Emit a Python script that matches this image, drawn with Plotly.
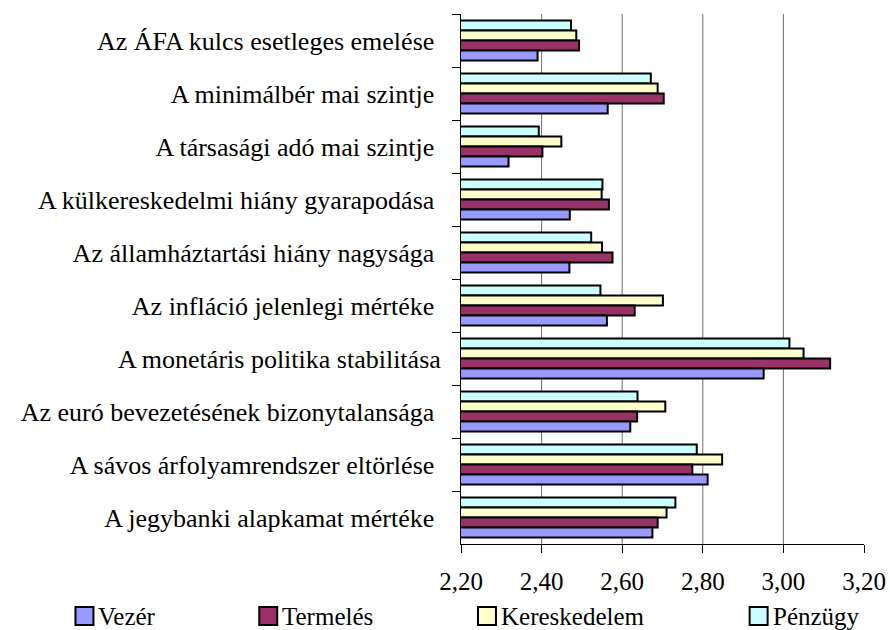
import plotly.graph_objects as go

# Categories listed from top to bottom of the chart
categories = [
    "Az ÁFA kulcs esetleges emelése",
    "A minimálbér mai szintje",
    "A társasági adó mai szintje",
    "A külkereskedelmi hiány gyarapodása",
    "Az államháztartási hiány nagysága",
    "Az infláció jelenlegi mértéke",
    "A monetáris politika stabilitása",
    "Az euró bevezetésének bizonytalansága",
    "A sávos árfolyamrendszer eltörlése",
    "A jegybanki alapkamat mértéke",
]

vezer = [2.390, 2.564, 2.318, 2.470, 2.469, 2.562, 2.951, 2.620, 2.812, 2.675]
termeles = [2.493, 2.703, 2.402, 2.567, 2.576, 2.631, 3.116, 2.637, 2.774, 2.688]
kereskedelem = [2.486, 2.688, 2.449, 2.549, 2.550, 2.701, 3.050, 2.707, 2.848, 2.710]
penzugy = [2.473, 2.671, 2.393, 2.551, 2.523, 2.546, 3.015, 2.638, 2.785, 2.732]

x_ticks = [2.2, 2.4, 2.6, 2.8, 3.0, 3.2]
grid_vals = [2.4, 2.6, 2.8, 3.0]

# name, values, fill colour, left edge of its key swatch (px)
series = [
    ("Vezér", vezer, "#9999FF", 75),
    ("Termelés", termeles, "#993366", 259),
    ("Kereskedelem", kereskedelem, "#FFFFCC", 478),
    ("Pénzügy", penzugy, "#CCFFFF", 750),
]

# Label text with a trailing non-breaking space, as in the source workbook
labels = [c if c.startswith("A monetáris") else c + "\u00a0" for c in categories]

serif = "Liberation Serif"
W, H = 890, 630
L, R, T, B = 461, 25.5, 14, 86
plot_w, plot_h = W - L - R, H - T - B


def px_x(px):
    return (px - L) / plot_w


def px_y(py):
    return (H - B - py) / plot_h


fig = go.Figure()
# bars are stacked upward within each group, so the last series added sits on top
for name, vals, color, _ in reversed(series):
    fig.add_trace(go.Bar(
        y=labels, x=vals, name=name, orientation="h",
        marker=dict(color=color, line=dict(color="black", width=2)),
        showlegend=False,
    ))

for v in grid_vals:
    fig.add_shape(type="line", x0=v, x1=v, xref="x", y0=0, y1=1,
                  yref="y domain", line=dict(color="#6e6e6e", width=1),
                  layer="below")

# key row under the axis: swatch + name for each series
key_top, key_size = 607, 18
for name, _, color, sx in series:
    fig.add_shape(type="rect", xref="paper", yref="paper",
                  x0=px_x(sx), x1=px_x(sx + key_size),
                  y0=px_y(key_top + key_size), y1=px_y(key_top),
                  fillcolor=color, line=dict(color="black", width=2))
    fig.add_annotation(text=name, xref="paper", yref="paper",
                       x=px_x(sx + key_size + 3), y=px_y(key_top + key_size / 2),
                       xanchor="left", yanchor="middle", showarrow=False,
                       font=dict(family=serif, size=25, color="black"))

fig.update_layout(
    width=W, height=H,
    margin=dict(l=L, r=R, t=T, b=B, autoexpand=False),
    paper_bgcolor="white", plot_bgcolor="white",
    barmode="group", bargap=0.245, bargroupgap=0,
    separators=", ",
    showlegend=False,
    font=dict(family=serif, color="black"),
    xaxis=dict(
        range=[2.2, 3.2], tickvals=x_ticks, tickformat=".2f",
        showgrid=False, zeroline=False,
        showline=True, linecolor="black", linewidth=1,
        ticks="outside", ticklen=8, tickcolor="black",
        tickfont=dict(family=serif, size=25, color="black"),
        ticklabelstandoff=7,
    ),
    yaxis=dict(
        type="category", autorange="reversed",
        showgrid=False, zeroline=False,
        showline=True, linecolor="black", linewidth=1,
        ticks="outside", ticklen=8, tickcolor="black", tickson="boundaries",
        tickfont=dict(family=serif, size=26, color="black"),
        ticklabelstandoff=14,
    ),
)

fig.write_html("out.html")
